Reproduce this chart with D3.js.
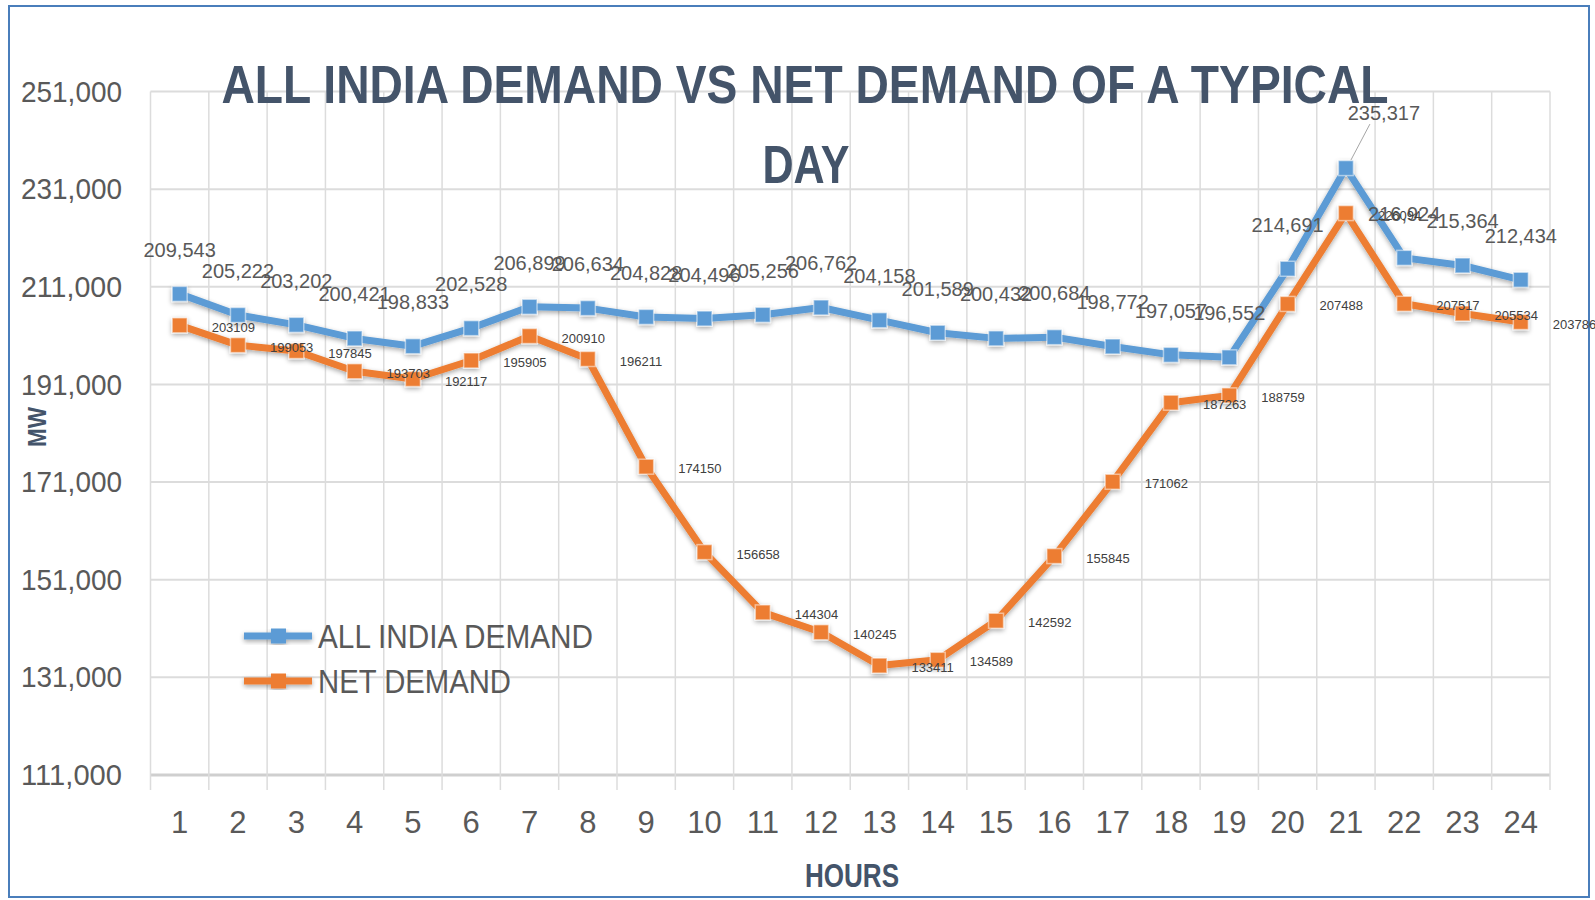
<!DOCTYPE html>
<html><head><meta charset="utf-8">
<script src="https://cdn.jsdelivr.net/npm/d3@7"></script>
<style>body{margin:0;background:#fff}svg{display:block}</style>
</head><body>
<svg id="c" width="1595" height="900"></svg>
<script>
const hours = ["1","2","3","4","5","6","7","8","9","10","11","12","13","14","15","16","17","18","19","20","21","22","23","24"];
const allIndiaDemand = [209543,205222,203202,200421,198833,202528,206899,206634,204828,204496,205256,206762,204158,201589,200432,200684,198772,197057,196552,214691,235317,216924,215364,212434];
const netDemand = [203109,199053,197845,193703,192117,195905,200910,196211,174150,156658,144304,140245,133411,134589,142592,155845,171062,187263,188759,207488,226094,207517,205534,203786];
const yTicks = [111000,131000,151000,171000,191000,211000,231000,251000];
const seriesNames = ["ALL INDIA DEMAND","NET DEMAND"];
const titleLines = ["ALL INDIA DEMAND VS NET DEMAND OF A TYPICAL","DAY"];

const svg = d3.select("#c");
const blue = "#5b9bd5", orange = "#ed7d31";
const font = "'Liberation Sans Narrow','Liberation Sans',Arial,sans-serif";

const defs = svg.append("defs");
const f = defs.append("filter").attr("id","glow").attr("x","-10%").attr("y","-10%").attr("width","120%").attr("height","120%");
f.append("feGaussianBlur").attr("in","SourceAlpha").attr("stdDeviation",2.5).attr("result","b");
f.append("feOffset").attr("in","b").attr("dx",0).attr("dy",2).attr("result","o");
f.append("feComponentTransfer").attr("in","o").attr("result","s").append("feFuncA").attr("type","linear").attr("slope",0.35);
const m = f.append("feMerge"); m.append("feMergeNode").attr("in","s"); m.append("feMergeNode").attr("in","SourceGraphic");

// border
svg.append("rect").attr("x",9).attr("y",6).attr("width",1580).attr("height",891)
  .attr("fill","#fff").attr("stroke","#4a7ebb").attr("stroke-width",2);

const x = d3.scaleBand().domain(hours).range([150.5,1550]);
const y = d3.scaleLinear().domain([111000,251000]).range([775,91.5]);
const cx = h => x(h) + x.bandwidth()/2;

// horizontal grid
svg.append("g").selectAll("line").data(yTicks).join("line")
  .attr("x1",150.5).attr("x2",1550).attr("y1",d=>y(d)).attr("y2",d=>y(d))
  .attr("stroke",d=>d===111000?"#cfcfcf":"#dcdcdc").attr("stroke-width",d=>d===111000?3:2);
const bounds = hours.map(h=>x(h)).concat([1550]);
svg.append("g").selectAll("line").data(bounds).join("line")
  .attr("x1",d=>d).attr("x2",d=>d).attr("y1",y(251000)).attr("y2",790)
  .attr("stroke","#dcdcdc").attr("stroke-width",1.5);

// y axis labels
const yAxis = d3.axisLeft(y).tickValues(yTicks).tickSize(0).tickPadding(0).tickFormat(d3.format(","));
const gy = svg.append("g").attr("transform","translate(122,0)").call(yAxis);
gy.select(".domain").remove();
gy.selectAll("text").attr("font-family",font).attr("font-size",30).attr("fill","#595959")
  .attr("textLength",101).attr("lengthAdjust","spacingAndGlyphs");

// x axis labels
const xAxis = d3.axisBottom(x).tickSize(0).tickPadding(0);
const gx = svg.append("g").attr("transform","translate(0,811)").call(xAxis);
gx.select(".domain").remove();
gx.selectAll("text").attr("font-family",font).attr("font-size",31).attr("fill","#595959").attr("dy","0.71em");

// axis titles
svg.append("text").attr("x",852).attr("y",887).attr("text-anchor","middle")
  .attr("font-family",font).attr("font-weight","bold").attr("font-size",33).attr("fill","#44546a")
  .attr("textLength",94).attr("lengthAdjust","spacingAndGlyphs").text("HOURS");
svg.append("text").attr("transform","translate(46,427) rotate(-90)").attr("text-anchor","middle")
  .attr("font-family",font).attr("font-weight","bold").attr("font-size",26).attr("fill","#44546a")
  .attr("textLength",40).attr("lengthAdjust","spacingAndGlyphs").text("MW");

// title
svg.append("text").attr("x",805).attr("y",103).attr("text-anchor","middle")
  .attr("font-family",font).attr("font-weight","bold").attr("font-size",54).attr("fill","#44546a")
  .attr("textLength",1167).attr("lengthAdjust","spacingAndGlyphs").text(titleLines[0]);
svg.append("text").attr("x",806).attr("y",183).attr("text-anchor","middle")
  .attr("font-family",font).attr("font-weight","bold").attr("font-size",54).attr("fill","#44546a")
  .attr("textLength",87).attr("lengthAdjust","spacingAndGlyphs").text(titleLines[1]);

// lines
const line = d3.line().x((d,i)=>cx(hours[i])).y(d=>y(d));
function drawSeries(vals,color){
  const g = svg.append("g").attr("filter","url(#glow)");
  g.append("path").datum(vals).attr("d",line).attr("fill","none").attr("stroke",color)
    .attr("stroke-width",7).attr("stroke-linejoin","round");
  g.selectAll("rect").data(vals).join("rect")
    .attr("x",(d,i)=>cx(hours[i])-7.5).attr("y",d=>y(d)-7.5).attr("width",15).attr("height",15)
    .attr("fill",color).attr("stroke","#ffffff").attr("stroke-opacity",0.5).attr("stroke-width",1.5);
}
drawSeries(allIndiaDemand,blue);
drawSeries(netDemand,orange);

// blue labels (above)
const maxI = allIndiaDemand.indexOf(d3.max(allIndiaDemand));
svg.append("g").selectAll("text").data(allIndiaDemand).join("text")
  .attr("x",(d,i)=>cx(hours[i]) + (i===maxI?38:0))
  .attr("y",(d,i)=>y(d) - (i===maxI?48:37))
  .attr("text-anchor","middle").attr("font-family",font).attr("font-size",20).attr("fill","#595959")
  .text(d=>d3.format(",")(d));
svg.append("line").attr("x1",cx(hours[maxI])+5).attr("y1",y(allIndiaDemand[maxI])-8)
  .attr("x2",cx(hours[maxI])+24).attr("y2",y(allIndiaDemand[maxI])-44).attr("stroke","#a6a6a6").attr("stroke-width",1);

// orange labels (right)
svg.append("g").selectAll("text").data(netDemand).join("text")
  .attr("x",(d,i)=>cx(hours[i])+32).attr("y",d=>y(d)+2).attr("dy","0.35em")
  .attr("font-family","'Liberation Sans',sans-serif").attr("font-size",13).attr("fill","#404040")
  .text(d=>d);

// legend
const leg = svg.append("g");
const legLen = [275,193];
[blue,orange].forEach((c,i)=>{
  const yy = 636 + i*45;
  const g = leg.append("g").attr("filter","url(#glow)");
  g.append("line").attr("x1",244).attr("x2",312).attr("y1",yy).attr("y2",yy).attr("stroke",c).attr("stroke-width",7);
  g.append("rect").attr("x",271).attr("y",yy-7.5).attr("width",15).attr("height",15).attr("fill",c);
  leg.append("text").attr("x",318).attr("y",yy).attr("dy","0.36em").attr("font-family",font)
    .attr("font-size",34).attr("fill","#595959")
    .attr("textLength",legLen[i]).attr("lengthAdjust","spacingAndGlyphs").text(seriesNames[i]);
});
</script>
</body></html>
